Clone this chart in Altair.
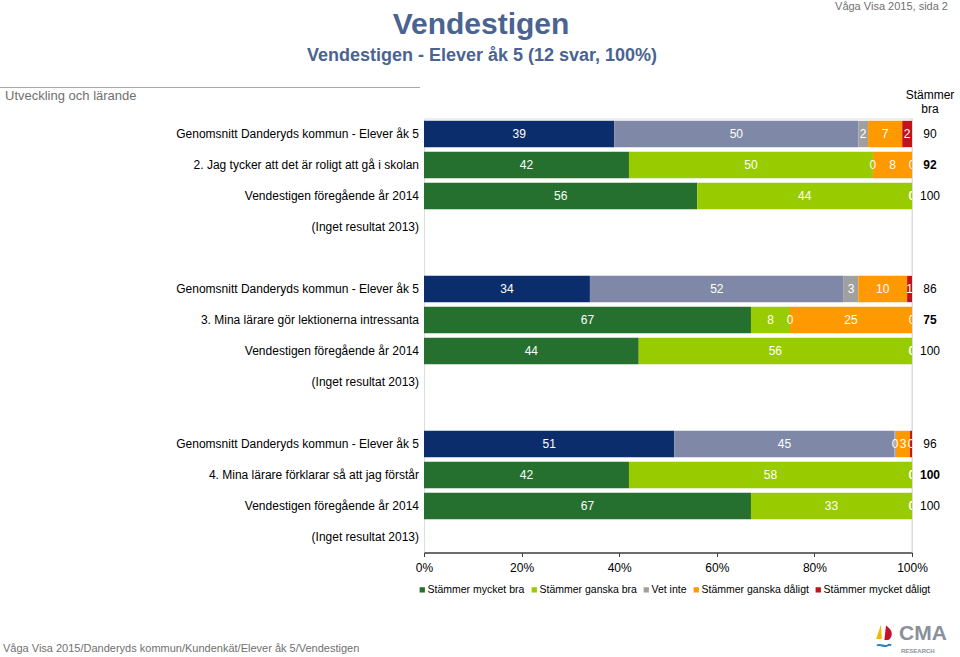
import altair as alt
import pandas as pd

# ---------------- data ----------------
categories = ["Stämmer mycket bra", "Stämmer ganska bra", "Vet inte",
              "Stämmer ganska dåligt", "Stämmer mycket dåligt"]
questions = ["2. Jag tycker att det är roligt att gå i skolan",
             "3. Mina lärare gör lektionerna intressanta",
             "4. Mina lärare förklarar så att jag förstår"]
snitt_label = "Genomsnitt Danderyds kommun - Elever åk 5"
fjol_label = "Vendestigen föregående år 2014"
none_label = "(Inget resultat 2013)"

snitt_values = [[39, 50, 2, 7, 2], [34, 52, 3, 10, 1], [51.3, 45.1, 0.3, 2.9, 0.4]]
skola_values = [[42, 50, 0, 8, 0], [67, 8, 0, 25, 0], [42, 58, 0, 0, 0]]
fjol_values = [[56, 44, 0, 0, 0], [44, 56, 0, 0, 0], [67, 33, 0, 0, 0]]
snitt_bra = [90, 86, 96]
skola_bra = [92, 75, 100]
fjol_bra = [100, 100, 100]
tick_values = [0, 20, 40, 60, 80, 100]

school_colors = ["#25702f", "#99cc00", "#a0a0a0", "#ff9900", "#c0131b"]
snitt_colors = ["#0b2d6b", "#7f89a7", "#a0a0a0", "#ff9900", "#c0131b"]

# ---------------- tables ----------------
rows = []
bars = []
for gi, q in enumerate(questions):
    spec = [
        ("snitt", snitt_label, snitt_values[gi], snitt_bra[gi], "normal"),
        ("skola", q, skola_values[gi], skola_bra[gi], "bold"),
        ("fjol", fjol_label, fjol_values[gi], fjol_bra[gi], "normal"),
        ("none", none_label, None, None, "normal"),
    ]
    for ri, (kind, lab, vals, bra, w) in enumerate(spec):
        rid = f"g{gi}r{ri}"
        rows.append({"row": rid, "label": lab, "bra": "" if bra is None else str(bra), "weight": w})
        if vals is not None:
            for ci, (cat, v) in enumerate(zip(categories, vals)):
                key = cat if kind != "snitt" else cat + " (snitt)"
                bars.append({"row": rid, "cat": cat, "key": key, "value": v, "order": ci})
    if gi < len(questions) - 1:
        rows.append({"row": f"sp{gi}", "label": "", "bra": "", "weight": "normal"})

row_df = pd.DataFrame(rows)
bar_df = pd.DataFrame(bars)
row_order = list(row_df["row"])

color_domain = categories + [c + " (snitt)" for c in categories]
color_range = school_colors + snitt_colors

FONT = "Liberation Sans"

yscale = alt.Scale(domain=row_order, paddingInner=0.15, paddingOuter=0.075)
xscale = alt.Scale(domain=[0, 100], nice=False, zero=True)


def Y():
    return alt.Y("row:N", scale=yscale, axis=None)


base = alt.Chart(bar_df).transform_stack(
    stack="value", groupby=["row"], as_=["x0", "x1"],
    sort=[alt.SortField("order", order="ascending")]
).transform_calculate(mid="(datum.x0 + datum.x1) / 2")

bar_layer = base.mark_bar(stroke=None).encode(
    x=alt.X("x0:Q", scale=xscale,
            axis=alt.Axis(values=tick_values, labelExpr="datum.value + '%'",
                          title=None, grid=False, domainColor="#404040", tickColor="#404040",
                          tickSize=4, labelFontSize=12, labelFont=FONT, labelColor="#000000",
                          labelPadding=6, domainWidth=1.5, labelFlush=False)),
    x2="x1:Q",
    y=Y(),
    color=alt.Color("key:N", scale=alt.Scale(domain=color_domain, range=color_range),
                    legend=alt.Legend(values=categories, title=None, orient="none",
                                      direction="horizontal", legendX=-7, legendY=466,
                                      symbolType="square", symbolSize=28,
                                      symbolStrokeWidth=0, labelFont=FONT,
                                      labelFontSize=10.5, labelColor="#000000",
                                      labelOffset=0, columnPadding=4, padding=0)),
)

txt_layer = base.mark_text(color="white", font=FONT, fontSize=12, clip=True).encode(
    x=alt.X("mid:Q", scale=xscale),
    y=Y(),
    text=alt.Text("value:Q", format=".0f"),
)

rule100 = alt.Chart(pd.DataFrame({"x": [100]})).mark_rule(color="#d9d9d9", strokeWidth=1).encode(
    x=alt.X("x:Q", scale=xscale))

row_labels = alt.Chart(row_df).mark_text(align="right", font=FONT, fontSize=12, color="#000000").encode(
    x=alt.value(-5), y=Y(), text="label:N")

bra_norm = alt.Chart(row_df).transform_filter("datum.weight == 'normal'").mark_text(
    align="center", font=FONT, fontSize=12, color="#000000").encode(
    x=alt.value(506), y=Y(), text="bra:N")
bra_bold = alt.Chart(row_df).transform_filter("datum.weight == 'bold'").mark_text(
    align="center", font=FONT, fontSize=12, fontWeight="bold", color="#000000").encode(
    x=alt.value(506), y=Y(), text="bra:N")

one = pd.DataFrame({"a": [0]})


def label(text, x, y, size, color="#000000", weight="normal", align="left", baseline="middle", **kw):
    return alt.Chart(one).mark_text(text=text, font=FONT, fontSize=size, color=color,
                                    fontWeight=weight, align=align, baseline=baseline, **kw).encode(
        x=alt.value(x), y=alt.value(y))


title_col = "#4a6390"
texts = [
    label("Vendestigen", 57, -94, 30, title_col, "bold", align="center"),
    label("Vendestigen - Elever åk 5 (12 svar, 100%)", 58, -63, 18, title_col, "bold", align="center"),
    label("Våga Visa 2015, sida 2", 524, -112, 11, "#707070", align="right"),
    label("Utveckling och lärande", -419, -23, 13, "#707070"),
    label("Stämmer", 506, -24, 12, align="center"),
    label("bra", 506, -10, 12, align="center"),
    label("Våga Visa 2015/Danderyds kommun/Kundenkät/Elever åk 5/Vendestigen", -421, 530, 11, "#707070"),
    label("CMA", 475, 515, 21, "#8a909c", "bold"),
    label("RESEARCH", 477, 532, 6, "#8a909c", "bold"),
]

header_rule = alt.Chart(one).mark_rule(color="#a6a6a6", strokeWidth=1).encode(
    x=alt.value(-424), x2=alt.value(-4), y=alt.value(-31))

# simple sail logo
red_sail = alt.Chart(one).mark_point(filled=True, opacity=1, size=260, color="#c8102e",
                                     shape="M 0 -1 C 0.9 -0.4 0.9 0.4 0.3 0.8 L -0.2 0.8 Z").encode(
    x=alt.value(462), y=alt.value(515))
yel_sail = alt.Chart(one).mark_point(filled=True, opacity=1, size=260, color="#f2b705",
                                     shape="M 0 -1 L 0.1 0.8 L -0.6 0.8 Z").encode(
    x=alt.value(457), y=alt.value(514))
wave = alt.Chart(one).mark_point(filled=False, opacity=1, size=200, color="#2a7fc1", strokeWidth=2,
                                 shape="M -1 0 C -0.5 -0.3 0 0.3 0.5 0 C 0.7 -0.15 0.9 -0.1 1 0").encode(
    x=alt.value(460), y=alt.value(527))

chart = alt.layer(rule100, bar_layer, txt_layer, row_labels, bra_norm, bra_bold,
                  header_rule, red_sail, yel_sail, wave, *texts).properties(
    width=488, height=434,
    padding={"left": 424, "top": 118.5, "right": 48, "bottom": 104.5},
    autosize=alt.AutoSizeParams(type="none"),
).configure_view(stroke=None).configure(font=FONT)

chart.save("out.html", embed_options={"renderer": "svg", "actions": False})
